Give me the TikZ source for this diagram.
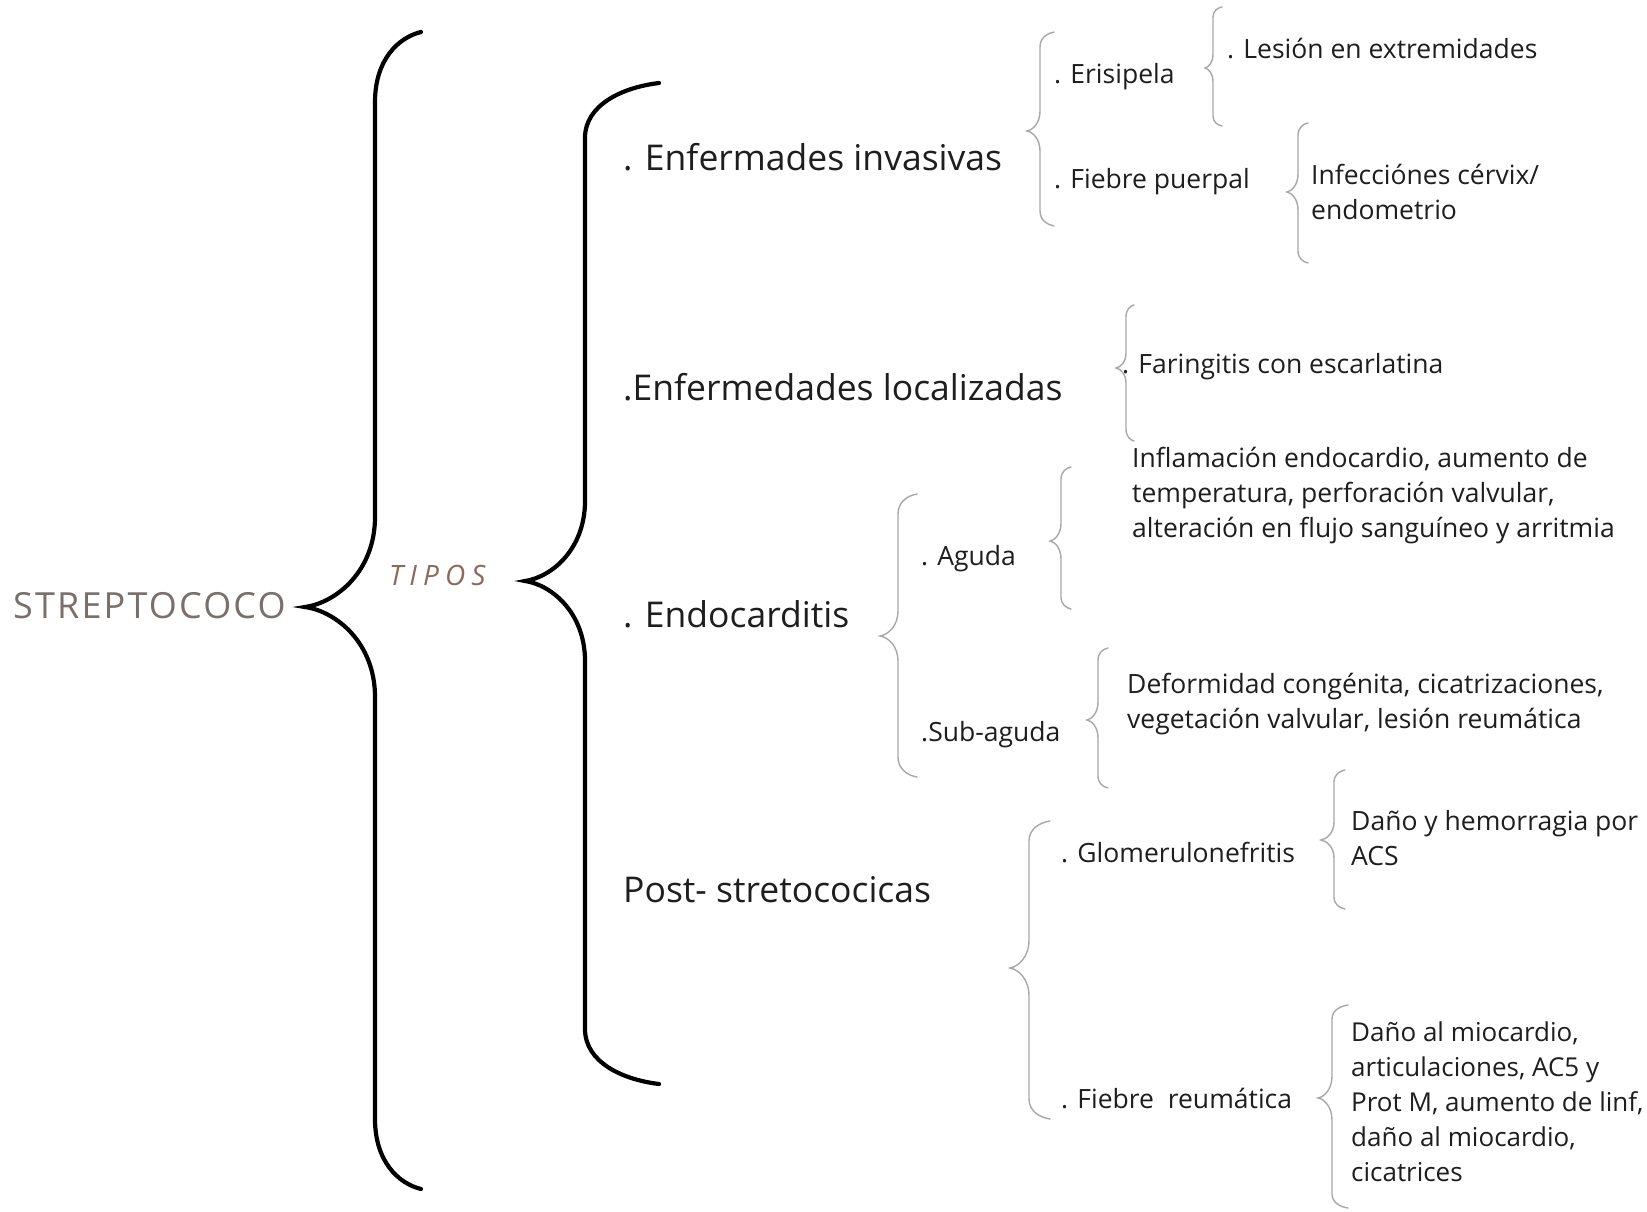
\documentclass[tikz,border=0pt]{standalone}
\usepackage{fontspec}
\setmainfont{Open Sans}
\newfontfamily\titlefont[LetterSpace=6]{Open Sans}
\newfontfamily\tiposfont[LetterSpace=22]{Open Sans}
\definecolor{txt}{HTML}{1E1E1E}
\definecolor{bracegray}{HTML}{A8A8A8}
\definecolor{titlecol}{HTML}{7A706B}
\definecolor{tiposcol}{HTML}{8B6A5C}
\newcommand{\cbrace}[9][]{%
 \draw[#1] (#2,#3) .. controls ({#4+0.5*(#2-#4)},{#3+0.08*#8}) and (#4,{#3+0.4*#8}) .. (#4,{#3+#8})
 -- (#4,{#6-#9}) .. controls (#4,{#6-0.4*#9}) and ({#5+0.45*(#4-#5)},{#6-0.05*#9}) .. (#5,#6)
 .. controls ({#5+0.45*(#4-#5)},{#6+0.05*#9}) and (#4,{#6+0.4*#9}) .. (#4,{#6+#9})
 -- (#4,{#7-#8}) .. controls (#4,{#7-0.4*#8}) and ({#4+0.5*(#2-#4)},{#7-0.08*#8}) .. (#2,#7);}
\begin{document}
\begin{tikzpicture}[x=1pt,y=-1pt,
  big/.style={line width=4.2pt, line cap=round, black},
  small/.style={line width=1.4pt, line cap=round, draw=bracegray},
  lvlone/.style={anchor=west, inner sep=0pt, font=\fontsize{35.5}{42}\selectfont, text=txt},
  lvltwo/.style={anchor=west, inner sep=0pt, font=\fontsize{26.5}{35}\selectfont, text=txt, align=left}]
\useasboundingbox[fill=white] (0,0) rectangle (1647,1212);

% main braces
\cbrace[big]{421}{32}{375}{305}{607}{1189}{70}{90}
\cbrace[big]{659}{83}{585}{525}{581}{1084}{55}{80}

% small braces
\cbrace[small]{1054}{32}{1040}{1027}{131}{226}{15}{20}
\cbrace[small]{1222}{7}{1213}{1205}{68}{126}{10}{14}
\cbrace[small]{1308}{123}{1298}{1287}{192}{263}{12}{18}
\cbrace[small]{1134}{305}{1126}{1116}{368}{441}{12}{15}
\cbrace[small]{1071}{467}{1061}{1050}{541}{609}{12}{18}
\cbrace[small]{1108}{648}{1098}{1087}{720}{788}{12}{18}
\cbrace[small]{917}{494}{898}{880}{636}{777}{20}{25}
\cbrace[small]{1050}{821}{1029}{1010}{968}{1119}{20}{28}
\cbrace[small]{1345}{770}{1334}{1321}{840}{909}{12}{18}
\cbrace[small]{1348}{1005}{1332}{1318}{1098}{1208}{14}{22}

% titles
\node[anchor=west, inner sep=0pt, text=titlecol, font=\titlefont\fontsize{36}{40}\selectfont] (strep) at (13,606) {STREPTOCOCO};
\node[anchor=west, inner sep=0pt, text=tiposcol, font=\tiposfont\itshape\fontsize{28}{32}\selectfont] (tipos) at (389,575) {TIPOS};

% level one
\node[lvlone] (inv) at (623,157) {. Enfermades invasivas};
\node[lvlone] (loc) at (623,387) {.Enfermedades localizadas};
\node[lvlone] (endo) at (623,614) {. Endocarditis};
\node[lvlone] (post) at (623,890) {Post- stretococicas};

% level two
\node[lvltwo] (eri) at (1054,77) {. Erisipela};
\node[lvltwo] (fp) at (1054,182) {. Fiebre puerpal};
\node[lvltwo] (les) at (1227,49) {. Lesión en extremidades};
\node[lvltwo] (infc) at (1311,192) {Infecciónes cérvix/\\endometrio};
\node[lvltwo] (far) at (1122,367) {. Faringitis con escarlatina};
\node[lvltwo] (ag) at (921,559) {. Aguda};
\node[lvltwo] (sub) at (921,735) {.Sub-aguda};
\node[lvltwo] (infl) at (1132,496) {Inflamación endocardio, aumento de\\temperatura, perforación valvular,\\alteración en flujo sanguíneo y arritmia};
\node[lvltwo] (def) at (1127,704) {Deformidad congénita, cicatrizaciones,\\vegetación valvular, lesión reumática};
\node[lvltwo] (glo) at (1061,853) {. Glomerulonefritis};
\node[lvltwo] (fr) at (1061,1099) {. Fiebre\ \ reumática};
\node[lvltwo] (dh) at (1351,838) {Daño y hemorragia por\\ACS};
\node[lvltwo, font=\fontsize{26}{35}\selectfont] (dm) at (1351,1102) {Daño al miocardio,\\articulaciones, AC5 y\\Prot M, aumento de linf,\\daño al miocardio,\\cicatrices};
\end{tikzpicture}
\end{document}
